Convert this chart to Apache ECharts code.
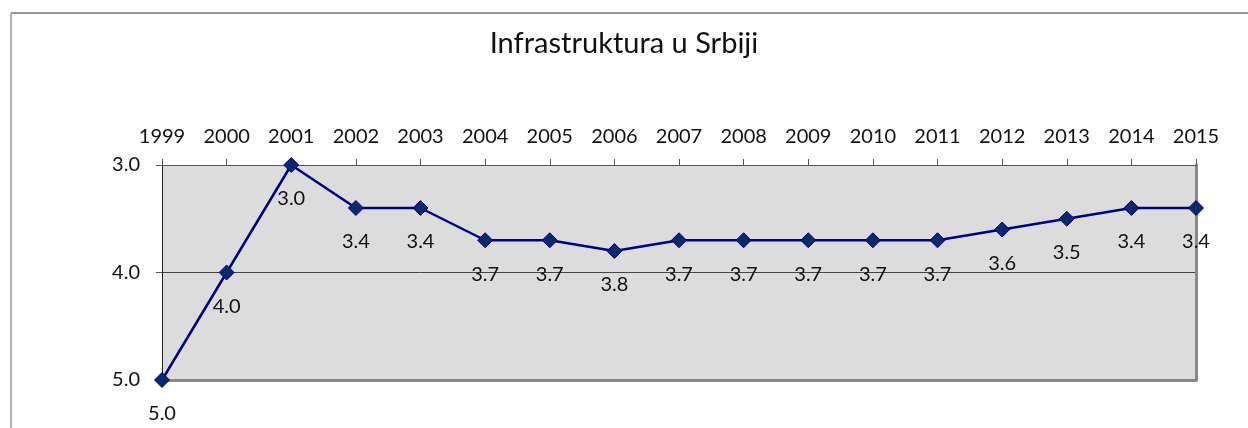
<!DOCTYPE html>
<html>
<head>
<meta charset="utf-8">
<script src="https://cdn.jsdelivr.net/npm/echarts@6/dist/echarts.min.js"></script>
<style>
  html, body { margin: 0; padding: 0; background: #fff; }
  #chart { width: 1248px; height: 428px; }
</style>
</head>
<body>
<div id="chart"></div>
<script>
// podaci
var years = ['1999', '2000', '2001', '2002', '2003', '2004', '2005', '2006', '2007',
  '2008', '2009', '2010', '2011', '2012', '2013', '2014', '2015'];
var scores = [5.0, 4.0, 3.0, 3.4, 3.4, 3.7, 3.7, 3.8, 3.7, 3.7, 3.7, 3.7, 3.7, 3.6, 3.5, 3.4, 3.4];
var yTicks = [3, 4, 5];

var font = 'Lato, "Open Sans", sans-serif';
var chart = echarts.init(document.getElementById('chart'));

var option = {
  animation: false,
  title: {
    text: 'Infrastruktura u Srbiji',
    left: 'center',
    top: 24,
    textStyle: { fontFamily: font, fontWeight: 'normal', fontSize: 29, color: '#111' }
  },
  graphic: [
    { type: 'line', shape: { x1: 11, y1: 13, x2: 1248, y2: 13 }, style: { stroke: '#707070', lineWidth: 1.5 } },
    { type: 'line', shape: { x1: 11, y1: 13, x2: 11, y2: 428 }, style: { stroke: '#b0b0b0', lineWidth: 2 } }
  ],
  grid: {
    left: 162, right: 52, top: 165, bottom: 48,
    show: true, backgroundColor: '#dcdcdc', borderWidth: 0
  },
  xAxis: [{
    type: 'category',
    position: 'top',
    boundaryGap: false,
    data: years,
    axisLine: { lineStyle: { color: '#555', width: 1 } },
    axisTick: { length: 6, lineStyle: { color: '#555' } },
    axisLabel: { margin: 18, fontFamily: font, fontSize: 20, color: '#111' }
  }, {
    type: 'category',
    position: 'bottom',
    boundaryGap: false,
    data: years,
    axisLine: { lineStyle: { color: '#888', width: 3 } },
    axisTick: { show: false },
    axisLabel: { show: false }
  }],
  yAxis: [{
    type: 'value',
    inverse: true,
    min: yTicks[0], max: yTicks[yTicks.length - 1], interval: 1,
    axisLine: { show: true, lineStyle: { color: '#222', width: 1 } },
    axisTick: { show: true, length: 6, lineStyle: { color: '#555' } },
    axisLabel: {
      margin: 22, fontFamily: font, fontSize: 20, color: '#111',
      formatter: function (v) { return v.toFixed(1); }
    },
    splitLine: { lineStyle: { color: '#444', width: 1 } }
  }, {
    type: 'value',
    position: 'right',
    inverse: true,
    min: yTicks[0], max: yTicks[yTicks.length - 1], interval: 1,
    axisLine: { show: true, lineStyle: { color: '#888', width: 3 } },
    axisTick: { show: false },
    axisLabel: { show: false },
    splitLine: { show: false }
  }],
  series: [{
    type: 'line',
    data: scores,
    clip: false,
    symbol: 'diamond',
    symbolSize: 15,
    lineStyle: { color: '#000080', width: 2.5 },
    itemStyle: { color: '#0b2a6e', borderColor: '#000080', borderWidth: 1 },
    label: {
      show: true,
      position: 'bottom',
      distance: 16,
      fontFamily: font,
      fontSize: 20,
      color: '#111',
      formatter: function (p) { return p.value.toFixed(1); }
    }
  }]
};

chart.setOption(option);
</script>
</body>
</html>
